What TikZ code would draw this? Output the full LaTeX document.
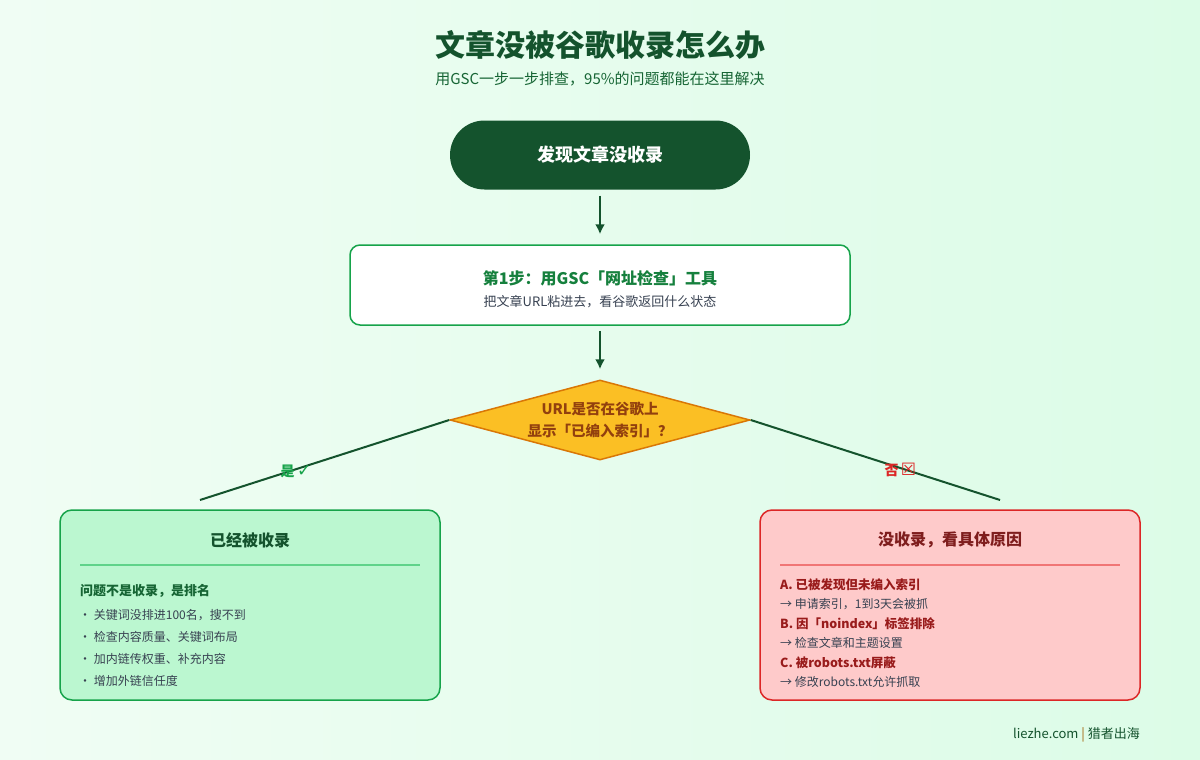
\documentclass[tikz,border=0pt]{standalone}
\usepackage{fontspec}
\setmainfont{Noto Sans CJK SC}
\newfontfamily\symfont{DejaVu Sans}
\usetikzlibrary{arrows.meta,shapes.geometric}

\definecolor{bgL}{HTML}{F0FDF4}
\definecolor{bgR}{HTML}{DCFCE7}
\definecolor{darkgreen}{HTML}{14532D}
\definecolor{midgreen}{HTML}{166534}
\definecolor{stepgreen}{HTML}{15803D}
\definecolor{green}{HTML}{16A34A}
\definecolor{textgray}{HTML}{374151}
\definecolor{amber}{HTML}{FBBF24}
\definecolor{amberdark}{HTML}{D97706}
\definecolor{ambertext}{HTML}{92400E}
\definecolor{yesfill}{HTML}{BBF7D0}
\definecolor{yesline}{HTML}{5FD38A}
\definecolor{nofill}{HTML}{FECACA}
\definecolor{red}{HTML}{DC2626}
\definecolor{noline}{HTML}{F07575}
\definecolor{redtitle}{HTML}{7F1D1D}
\definecolor{redtext}{HTML}{991B1B}
\definecolor{gold}{HTML}{A16207}

\newcommand\fsz[2]{\fontsize{#1}{#2}\selectfont}

\begin{document}
\begin{tikzpicture}[x=1pt, y=-1pt, every node/.style={inner sep=0pt}, >={Latex[length=10pt,width=10pt]},
  flow/.style={->, draw=darkgreen, line width=2.5pt},
  branch/.style={draw=darkgreen, line width=2pt},
  panel/.style={draw, line width=1.5pt, rounded corners=12pt, minimum width=380pt, minimum height=190pt},
  head/.style={anchor=west, font=\bfseries\fsz{12.5}{15}},
  item/.style={anchor=west, text=textgray, font=\fsz{12}{14}}]
	\shade[left color=bgL, right color=bgR] (0,0) rectangle (1200,760);
	\node[text=darkgreen, font=\bfseries\fsz{30}{36}] (title) at (600,45) {文章没被谷歌收录怎么办};
	\node[text=midgreen, font=\fsz{15}{18}] (subtitle) at (600,79) {用GSC一步一步排查，95\%的问题都能在这里解决};
	\node[fill=darkgreen, rounded corners=34.5pt, minimum width=300pt, minimum height=69pt, text=white, font=\bfseries\fsz{18}{22}] (start) at (600,155) {发现文章没收录};
	\node[draw=green, fill=white, line width=1.5pt, rounded corners=10pt, minimum width=500pt, minimum height=80pt] (step) at (600,285) {};
	\node[text=stepgreen, font=\bfseries\fsz{16}{19}] (steptitle) at (600,278) {第1步：用GSC「网址检查」工具};
	\node[text=textgray, font=\fsz{13}{16}] (stepnote) at (600,302) {把文章URL粘进去，看谷歌返回什么状态};
	\node[diamond, aspect=3.75, draw=amberdark, fill=amber, line width=1.5pt, minimum width=300pt, minimum height=80pt, text=ambertext, font=\bfseries\fsz{14.5}{22}, align=center] (check) at (600,420) {URL是否在谷歌上\\显示「已编入索引」？};
	\draw[flow, shorten <=6pt, shorten >=10pt] (start) -- (step);
	\draw[flow, shorten <=5pt, shorten >=10pt] (step) -- (check);
	\coordinate (yesend) at (200,500);
	\coordinate (noend) at (1000,500);
	\draw[branch] (check.west) -- (yesend) node[pos=0.615, yshift=-2pt, text=green, font=\bfseries\fsz{14}{16}] {是\,{\symfont\mdseries\fsz{17}{16}✓}};
	\draw[branch] (check.east) -- (noend) node[pos=0.6, yshift=-2pt, text=red, font=\bfseries\fsz{14}{16}] {否\,{\symfont\mdseries\fsz{17}{16}☒}};
	% found in index
	\node[panel, draw=green, fill=yesfill] (yes) at (250,605) {};
	\node[text=darkgreen, font=\bfseries\fsz{16}{19}] (yestitle) at (250,540) {已经被收录};
	\draw[yesline, line width=2pt] (80,565) -- (420,565);
	\node[head, text=midgreen, font=\bfseries\fsz{13}{16}] at (80,591) {问题不是收录，是排名};
	\node[item] at (79,615) {・ 关键词没排进100名，搜不到};
	\node[item] at (79,637) {・ 检查内容质量、关键词布局};
	\node[item] at (79,659) {・ 加内链传权重、补充内容};
	\node[item] at (79,681) {・ 增加外链信任度};
	% not in index
	\node[panel, draw=red, fill=nofill] (no) at (950,605) {};
	\node[text=redtitle, font=\bfseries\fsz{16}{19}] (notitle) at (950,540) {没收录，看具体原因};
	\draw[noline, line width=2pt] (780,565) -- (1120,565);
	\node[head, text=redtext] at (780,585) {A. 已被发现但未编入索引};
	\node[item] at (780,604) {→ 申请索引，1到3天会被抓};
	\node[head, text=redtext] at (780,624) {B. 因「noindex」标签排除};
	\node[item] at (780,643) {→ 检查文章和主题设置};
	\node[head, text=redtext] at (780,663) {C. 被robots.txt屏蔽};
	\node[item] at (780,682) {→ 修改robots.txt允许抓取};
	\node[anchor=east, text=darkgreen, font=\fsz{13}{16}] (footer) at (1140,735) {liezhe.com {\color{gold}|} 猎者出海};
\end{tikzpicture}
\end{document}
